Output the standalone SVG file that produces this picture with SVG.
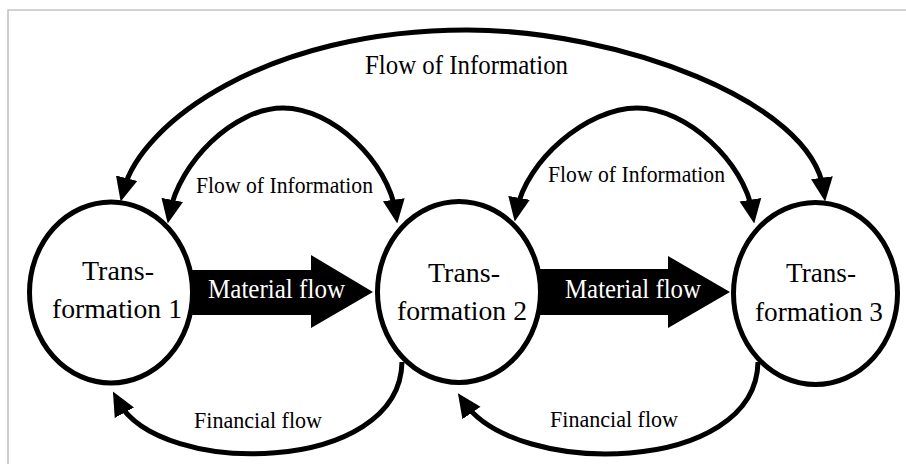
<svg xmlns="http://www.w3.org/2000/svg" width="906" height="464" viewBox="0 0 906 464">
<style>
.frame{fill:none;stroke:#c4c4c4;stroke-width:1.6}
.node ellipse{fill:#fff;stroke:#000;stroke-width:5}
.lbl{font-family:"Liberation Serif","Times New Roman",serif;fill:#000}
.nt{font-size:28px;text-anchor:middle}
.info{font-size:22.5px}
.mat{font-size:27px;fill:#fff}
.fin{font-size:22.5px}
.arc{fill:none;stroke:#000;stroke-width:5}
.both{marker-start:url(#ah);marker-end:url(#ah)}
.end{marker-end:url(#ah)}
.block{fill:#000}
</style>
<defs>
<marker id="ah" markerUnits="userSpaceOnUse" markerWidth="24" markerHeight="23" refX="12" refY="10.5" orient="auto-start-reverse" viewBox="0 0 23 21">
<path d="M0,0 L23,10.5 L0,21 z" fill="#000"/>
</marker>
</defs>
<rect width="906" height="464" fill="#fff"/>
<path class="frame" d="M8,464 L8,10 L906,10"/>
<g id="connectors">
<path id="mat1" class="block" d="M150,270 L311,270 L311,255 L373,292 L311,328 L311,315 L150,315 z"/>
<path id="mat2" class="block" d="M500,269 L668,269 L668,256 L730,292 L668,328 L668,315 L500,315 z"/>
<path id="info-outer" class="arc both" d="M123.5,190.3 C140.9,122.5 267,30 467,30 C617,30 811.5,101 823.6,190.1"/>
<path id="info-12" class="arc both" d="M169.9,212.2 C179.3,163.1 233,108 283,108 C333,108 388.4,162.6 395.6,212.1"/>
<path id="info-23" class="arc both" d="M516.8,210.2 C525.8,161.2 587,108 637,108 C687,108 744.4,162.7 752.4,212.1"/>
<path id="fin-21" class="arc end" d="M402,362 C400,475 160,478 118.4,401.7"/>
<path id="fin-32" class="arc end" d="M758,362 C756,475 516,478 464.4,402.7"/>
<text class="lbl info" x="365" y="74" textLength="203" lengthAdjust="spacingAndGlyphs" style="font-size:28px">Flow of Information</text>
<text class="lbl info" x="196" y="193" textLength="177" lengthAdjust="spacingAndGlyphs">Flow of Information</text>
<text class="lbl info" x="548" y="182" textLength="177" lengthAdjust="spacingAndGlyphs">Flow of Information</text>
<text class="lbl mat" x="208" y="298" textLength="137" lengthAdjust="spacingAndGlyphs">Material flow</text>
<text class="lbl mat" x="565" y="298" textLength="136" lengthAdjust="spacingAndGlyphs">Material flow</text>
<text class="lbl fin" x="194" y="428" textLength="128" lengthAdjust="spacingAndGlyphs">Financial flow</text>
<text class="lbl fin" x="550" y="427" textLength="128" lengthAdjust="spacingAndGlyphs">Financial flow</text>
</g>
<g id="node1" class="node">
<ellipse cx="111" cy="292.5" rx="81.5" ry="90.5"/>
<text class="lbl nt" x="118" y="280" textLength="72" lengthAdjust="spacingAndGlyphs">Trans-</text>
<text class="lbl nt" x="117" y="318" textLength="130" lengthAdjust="spacingAndGlyphs">formation 1</text>
</g>
<g id="node2" class="node">
<ellipse cx="459" cy="292" rx="81.5" ry="90.5"/>
<text class="lbl nt" x="464" y="282" textLength="72" lengthAdjust="spacingAndGlyphs">Trans-</text>
<text class="lbl nt" x="462" y="320" textLength="130" lengthAdjust="spacingAndGlyphs">formation 2</text>
</g>
<g id="node3" class="node">
<ellipse cx="815.5" cy="293.5" rx="82" ry="91"/>
<text class="lbl nt" x="821" y="282" textLength="70" lengthAdjust="spacingAndGlyphs">Trans-</text>
<text class="lbl nt" x="819" y="321" textLength="128" lengthAdjust="spacingAndGlyphs">formation 3</text>
</g>
</svg>
